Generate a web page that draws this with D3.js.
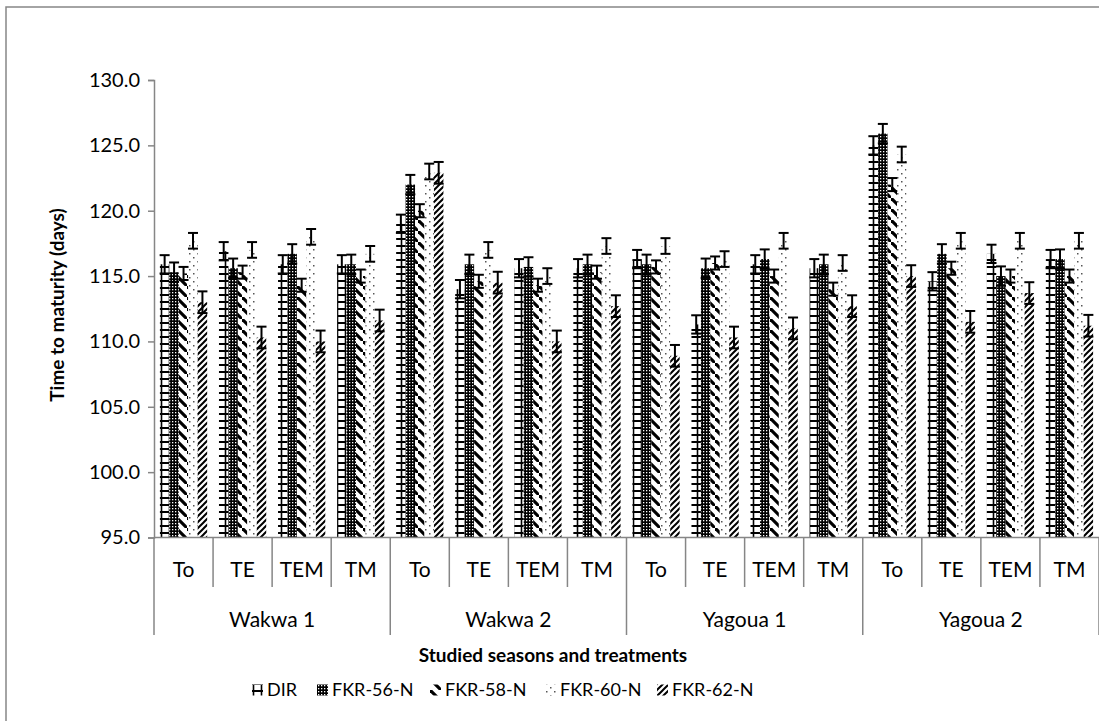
<!DOCTYPE html>
<html>
<head>
<meta charset="utf-8">
<script src="https://cdnjs.cloudflare.com/ajax/libs/d3/7.8.5/d3.min.js"></script>
<style>
  body { margin: 0; background: #fff; }
  text { font-family: Lato, "Open Sans", sans-serif; fill: #000; }
</style>
</head>
<body>
<svg id="chart" width="1099" height="721"></svg>
<script>
var seasons = ["Wakwa 1", "Wakwa 2", "Yagoua 1", "Yagoua 2"];
var treatments = ["To", "TE", "TEM", "TM"];
var series = ["DIR", "FKR-56-N", "FKR-58-N", "FKR-60-N", "FKR-62-N"];

var dir    = [115.9, 116.9, 115.9, 115.9, 119.0, 114.0, 115.6, 115.6, 116.3, 111.3, 115.9, 115.6, 125.0, 114.6, 116.7, 116.3];
var fkr56  = [115.3, 115.6, 116.7, 115.9, 122.0, 115.9, 115.7, 115.9, 115.9, 115.6, 116.3, 115.9, 125.9, 116.7, 115.0, 116.3];
var fkr58  = [115.2, 115.3, 114.3, 115.0, 120.0, 114.6, 114.3, 115.3, 115.7, 116.0, 115.0, 114.0, 122.0, 115.6, 115.0, 115.0];
var fkr60  = [117.7, 117.0, 118.0, 116.7, 123.0, 117.0, 115.0, 117.3, 117.3, 116.3, 117.7, 116.0, 124.3, 117.7, 117.7, 117.7];
var fkr62  = [113.0, 110.3, 110.0, 111.6, 122.9, 114.5, 110.0, 112.7, 108.9, 110.3, 111.0, 112.7, 115.0, 111.5, 113.7, 111.2];
var errors = [0.7, 0.74, 0.5, 0.6, 0.83];

var yTicks = [95, 100, 105, 110, 115, 120, 125, 130];

var values = [dir, fkr56, fkr58, fkr60, fkr62];
var patterns = ["pDir", "p56", "p58", "p60", "p62"];

var categories = [];
seasons.forEach(function(s) {
  treatments.forEach(function(t) { categories.push(s + "|" + t); });
});

var rows = [];
categories.forEach(function(c, i) {
  series.forEach(function(s, j) {
    rows.push({ cat: c, series: s, value: values[j][i], err: errors[j], pat: patterns[j] });
  });
});

var svg = d3.select("#chart");
var axisColor = "#868686";

// pattern fills
var defs = svg.append("defs");

var pd = defs.append("pattern").attr("id", "pDir").attr("patternUnits", "userSpaceOnUse")
  .attr("width", 8).attr("height", 7);
pd.append("rect").attr("width", 8).attr("height", 7).attr("fill", "#fff");
pd.append("line").attr("x1", 0).attr("x2", 8).attr("y1", 1).attr("y2", 1).attr("stroke", "#000").attr("stroke-width", 2);
pd.append("line").attr("x1", 1.5).attr("x2", 1.5).attr("y1", 0).attr("y2", 7).attr("stroke", "#000").attr("stroke-width", 1.6);

var p56 = defs.append("pattern").attr("id", "p56").attr("patternUnits", "userSpaceOnUse")
  .attr("width", 3).attr("height", 3);
p56.append("rect").attr("width", 3).attr("height", 3).attr("fill", "#000");
p56.append("rect").attr("x", 1).attr("y", 1).attr("width", 1.3).attr("height", 1.3).attr("fill", "#fff");

var p58 = defs.append("pattern").attr("id", "p58").attr("patternUnits", "userSpaceOnUse")
  .attr("width", 11).attr("height", 11);
p58.append("rect").attr("width", 11).attr("height", 11).attr("fill", "#fff");
p58.append("line").attr("x1", -2).attr("y1", -2).attr("x2", 13).attr("y2", 13)
  .attr("stroke", "#000").attr("stroke-width", 3.2);

var p60 = defs.append("pattern").attr("id", "p60").attr("patternUnits", "userSpaceOnUse")
  .attr("width", 8).attr("height", 8);
p60.append("rect").attr("width", 8).attr("height", 8).attr("fill", "#fff");
p60.append("rect").attr("x", 1).attr("y", 1).attr("width", 1.5).attr("height", 1.5).attr("fill", "#555");
p60.append("rect").attr("x", 5).attr("y", 5).attr("width", 1.5).attr("height", 1.5).attr("fill", "#555");

var p62 = defs.append("pattern").attr("id", "p62").attr("patternUnits", "userSpaceOnUse")
  .attr("width", 6).attr("height", 6);
p62.append("rect").attr("width", 6).attr("height", 6).attr("fill", "#fff");
p62.append("path").attr("d", "M-1,7 L7,-1 M-1,1 L1,-1 M5,7 L7,5")
  .attr("stroke", "#000").attr("stroke-width", 2);

// outer frame
svg.append("rect")
  .attr("x", 6).attr("y", 7).attr("width", 1200).attr("height", 800)
  .attr("fill", "none").attr("stroke", axisColor).attr("stroke-width", 1.5);

var plotLeft = 154, plotRight = 1099, plotTop = 80, plotBottom = 537.5;

var x0 = d3.scaleBand().domain(categories).range([plotLeft, plotRight]);
var bw = x0.bandwidth();
var x1 = d3.scaleBand().domain(series).range([bw * 0.1, bw * 0.9]);
var y = d3.scaleLinear().domain([95, 130]).range([plotBottom, plotTop]);

// y axis
var yAxis = svg.append("g")
  .attr("transform", "translate(" + plotLeft + ",0)")
  .call(d3.axisLeft(y).tickValues(yTicks).tickSize(6).tickPadding(8).tickFormat(d3.format(".1f")));
yAxis.select(".domain").attr("stroke", axisColor).attr("stroke-width", 1.5);
yAxis.selectAll(".tick line").attr("stroke", axisColor).attr("stroke-width", 1.5);
yAxis.selectAll(".tick text").style("font-size", "20px").attr("fill", "#000");

// bars
svg.append("g").selectAll("rect.bar").data(rows).join("rect")
  .attr("class", "bar")
  .attr("x", function(d) { return x0(d.cat) + x1(d.series); })
  .attr("width", x1.bandwidth())
  .attr("y", function(d) { return y(d.value); })
  .attr("height", function(d) { return y(95) - y(d.value); })
  .attr("fill", function(d) { return "url(#" + d.pat + ")"; });

// error bars
var eb = svg.append("g").selectAll("g").data(rows).join("g")
  .attr("stroke", "#000").attr("stroke-width", 2);
function cx(d) { return x0(d.cat) + x1(d.series) + x1.bandwidth() / 2; }
eb.append("line")
  .attr("x1", cx).attr("x2", cx)
  .attr("y1", function(d) { return y(d.value + d.err); })
  .attr("y2", function(d) { return y(d.value - d.err); });
eb.append("line")
  .attr("x1", function(d) { return cx(d) - 5; }).attr("x2", function(d) { return cx(d) + 5; })
  .attr("y1", function(d) { return y(d.value + d.err); })
  .attr("y2", function(d) { return y(d.value + d.err); });
eb.append("line")
  .attr("x1", function(d) { return cx(d) - 5; }).attr("x2", function(d) { return cx(d) + 5; })
  .attr("y1", function(d) { return y(d.value - d.err); })
  .attr("y2", function(d) { return y(d.value - d.err); });

// category axis
var ax = svg.append("g").attr("stroke", axisColor).attr("stroke-width", 1.5);
ax.append("line").attr("x1", plotLeft).attr("x2", plotRight).attr("y1", plotBottom).attr("y2", plotBottom);
categories.forEach(function(c, i) {
  var xl = x0(c);
  ax.append("line").attr("x1", xl).attr("x2", xl).attr("y1", plotBottom)
    .attr("y2", i % 4 === 0 ? 635 : 587);
});
ax.append("line").attr("x1", plotRight).attr("x2", plotRight).attr("y1", plotBottom).attr("y2", 635);

svg.append("g").selectAll("text").data(categories).join("text")
  .attr("x", function(d) { return x0(d) + bw / 2; })
  .attr("y", 570)
  .attr("dy", "0.35em")
  .attr("text-anchor", "middle")
  .style("font-size", "21px")
  .text(function(d) { return d.split("|")[1]; });

svg.append("g").selectAll("text").data(seasons).join("text")
  .attr("x", function(d) { return x0(d + "|To") + bw * 2; })
  .attr("y", 620)
  .attr("dy", "0.35em")
  .attr("text-anchor", "middle")
  .style("font-size", "21px")
  .text(function(d) { return d; });

// titles
svg.append("text")
  .attr("x", 553).attr("y", 655).attr("dy", "0.35em")
  .attr("text-anchor", "middle")
  .style("font-size", "19px").style("font-weight", "bold")
  .text("Studied seasons and treatments");

svg.append("text")
  .attr("transform", "translate(57,305) rotate(-90)")
  .attr("dy", "0.35em")
  .attr("text-anchor", "middle")
  .style("font-size", "19px").style("font-weight", "bold")
  .text("Time to maturity (days)");

// legend
var legendX = [252, 317, 430, 545, 657];
var lg = svg.append("g").selectAll("g").data(series).join("g")
  .attr("transform", function(d, i) { return "translate(" + legendX[i] + ",690)"; });
lg.append("rect")
  .attr("x", 0).attr("y", -5.5).attr("width", 11).attr("height", 11)
  .attr("fill", function(d, i) { return "url(#" + patterns[i] + ")"; });
lg.append("text")
  .attr("x", 15).attr("dy", "0.35em")
  .style("font-size", "18px")
  .text(function(d) { return d; });
</script>
</body>
</html>
